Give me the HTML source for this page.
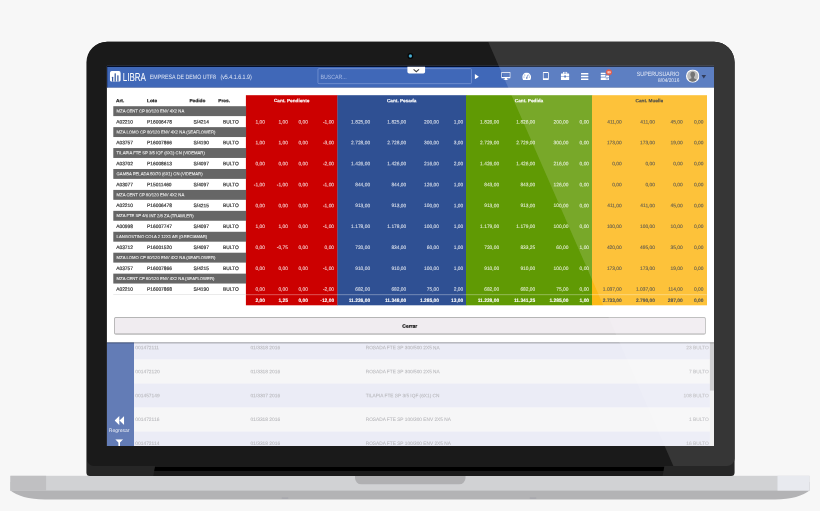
<!DOCTYPE html>
<html lang="es">
<head>
<meta charset="utf-8">
<title>LIBRA - Empresa de demo</title>
<style>
html,body{margin:0;padding:0}
body{width:820px;height:511px;overflow:hidden;background:#f7f7f7;position:relative;font-family:"Liberation Sans",Arial,sans-serif}
div,svg.l{position:absolute;box-sizing:border-box}
svg.l{left:0;top:0}
.screen{left:0;top:0;width:820px;height:511px;clip-path:inset(66.7px 106px 65px 106.95px)}
.t{left:0;top:0;transform-origin:0 0;white-space:nowrap;line-height:8px;height:8px;font-size:4.88px;color:#3a3a3a;-webkit-text-stroke:.2px;text-rendering:geometricPrecision}
.b{font-weight:bold;-webkit-text-stroke:.06px}
</style>
</head>
<body>

<svg class="l" width="820" height="511" viewBox="0 0 820 511">
<defs><clipPath id="scr"><rect x="106.95" y="65.7" width="607.05" height="380.3"/></clipPath><clipPath id="lidc"><path d="M106.9 41.8 H714.1 A20.5 20.5 0 0 1 734.6 62.3 V458.5 A7.5 7.5 0 0 1 727.1 466 H93.9 A7.5 7.5 0 0 1 86.4 458.5 V62.3 A20.5 20.5 0 0 1 106.9 41.8 Z"/></clipPath><clipPath id="av"><circle cx="67" cy="67" r="56"/></clipPath></defs>
<path d="M106.9 41.8 H714.1 A20.5 20.5 0 0 1 734.6 62.3 V472.4 A3.5 3.5 0 0 1 731.1 475.9 H89.9 A3.5 3.5 0 0 1 86.4 472.4 V62.3 A20.5 20.5 0 0 1 106.9 41.8 Z" fill="none" stroke="#fff" stroke-opacity=".55" stroke-width="1.6"/>
<path d="M10.4 482 H809.5 V490.6 C803.5 495.6 791 499.6 775 499.6 H45 C29 499.6 16.4 495.6 10.4 490.6 Z" fill="#b3b3b5"/>
<rect x="10.4" y="475.8" width="799.1" height="14.8" fill="#d1d2d4"/>
<rect x="10.4" y="475.8" width="35.7" height="14.8" fill="#c0c0c2"/>
<rect x="777.5" y="475.8" width="32" height="14.8" fill="#e8eaef"/>
<path d="M355 475.5 H465.5 V478 A6.3 6.3 0 0 1 459.2 484.3 H361.3 A6.3 6.3 0 0 1 355 478 Z" fill="#b0b0b2"/>
<rect x="281.5" y="497.4" width="7" height="1.4" rx="0.7" fill="#a5a5ac"/>
<rect x="529.5" y="497.4" width="7" height="1.4" rx="0.7" fill="#a5a5ac"/>
<path d="M106.9 41.8 H714.1 A20.5 20.5 0 0 1 734.6 62.3 V472.4 A3.5 3.5 0 0 1 731.1 475.9 H89.9 A3.5 3.5 0 0 1 86.4 472.4 V62.3 A20.5 20.5 0 0 1 106.9 41.8 Z" fill="#262626"/>
<path d="M107.5 41.8 H714.1 A20.5 20.5 0 0 1 734.6 62.3 V458.5 A7.5 7.5 0 0 1 727.1 466 H94 A7 7 0 0 1 87 459 V62.3 A20.5 20.5 0 0 1 107.5 41.8 Z" fill="#1a1a1a"/>
<path d="M155.2 465.5 H664.4 L662.6 475.9 H153.4 Z" fill="#1a1a1a"/>
<path d="M155 467 H664.2 L663.4 471.1 H154.2 Z" fill="#000"/>
<circle cx="410.4" cy="56" r="2.9" fill="#050505"/><circle cx="410.4" cy="56" r="1.7" fill="#3b9ec4"/><circle cx="410.4" cy="56" r=".8" fill="#62bbd9"/>
<g clip-path="url(#scr)">
<rect x="105.95" y="65.7" width="609.05" height="381.3" fill="#fff"/>
<rect x="105.95" y="341.3" width="28.15" height="105.7" fill="#637cb6"/>
<rect x="134.1" y="335.5" width="580.9" height="24.2" fill="#ebecf6"/>
<rect x="134.1" y="359.5" width="580.9" height="24.2" fill="#f6f6f7"/>
<rect x="134.1" y="383.5" width="580.9" height="24.2" fill="#ebecf6"/>
<rect x="134.1" y="407.5" width="580.9" height="24.2" fill="#f6f6f7"/>
<rect x="134.1" y="431.5" width="580.9" height="24.2" fill="#ebecf6"/>
<rect x="709.9" y="342" width="4.6" height="106" fill="#f1f1f1"/>
<rect x="709.9" y="342" width="4.6" height="48.6" fill="#c9c9cb"/>
<svg x="114.6" y="416.1" width="9.6" height="9" viewBox="0 0 98 84" preserveAspectRatio="none"><path d="M48 0 L48 84 L0 42 Z M98 0 L98 84 L50 42 Z" fill="#fff"/></svg>
<svg x="115.2" y="439.2" width="8" height="8" viewBox="0 0 80 80" preserveAspectRatio="none"><path d="M0 0 H80 L48 34 V80 H32 V34 Z" fill="#fff"/></svg>
<rect x="105.95" y="342.1" width="609.05" height="1.9" fill="rgba(0,0,0,.09)"/>
<rect x="105.95" y="342.1" width="609.05" height="1" fill="rgba(0,0,0,.30)"/>
<rect x="105.95" y="86.6" width="609.05" height="255.7" fill="#fff"/>
<rect x="105.95" y="65.7" width="609.05" height="21.9" fill="#4068b8"/>
<rect x="105.95" y="65.5" width="609.05" height="1.45" fill="#020b24"/>
<rect x="105.95" y="87" width="609.05" height="0.6" fill="rgba(40,40,60,.28)"/>
<rect x="106.85" y="66.1" width="0.45" height="21.5" fill="#0a1c4a"/>
<svg x="109.8" y="70.9" width="11" height="10.9" viewBox="0 0 106 108" preserveAspectRatio="none"><rect x="0" y="0" width="106" height="108" rx="26" fill="#fff"/><rect x="21" y="58" width="12" height="50" rx="5" fill="#34589f"/><rect x="46" y="24" width="12" height="84" rx="5" fill="#34589f"/><rect x="72" y="44" width="12" height="64" rx="5" fill="#34589f"/></svg>
<rect x="317.95" y="68.65" width="153.5" height="15" rx="1" fill="none" stroke="#8fa9e0" stroke-width=".55"/>
<path d="M407.4 66.7 H425.1 V71.8 A1.8 1.8 0 0 1 423.3 73.6 H409.2 A1.8 1.8 0 0 1 407.4 71.8 Z" fill="#fff"/>
<path d="M413.6 69.3 L416.3 71.7 L419 69.3" fill="none" stroke="#444" stroke-width="1.1"/>
<path d="M474.9 74.1 L478.9 76.7 L474.9 79.3 Z" fill="#fff"/>
<svg x="501.2" y="71.9" width="9.4" height="8.2" viewBox="0 0 94 82" preserveAspectRatio="none"><path d="M6 0 H88 a6 6 0 0 1 6 6 V58 a6 6 0 0 1 -6 6 H56 L60 76 H70 V82 H24 V76 H34 L38 64 H6 a6 6 0 0 1 -6 -6 V6 a6 6 0 0 1 6 -6 Z M8 8 V50 H86 V8 Z" fill="#fff" fill-rule="evenodd"/></svg>
<svg x="522.2" y="72.6" width="8.9" height="7.5" viewBox="0 0 89 75" preserveAspectRatio="none"><path d="M44.5 0 A44.5 44.5 0 0 1 89 44.5 C89 56 86 66 80 75 H9 C3 66 0 56 0 44.5 A44.5 44.5 0 0 1 44.5 0 Z" fill="#fff"/><path d="M42 52 L52 22 L56 24 L50 54 Z" fill="#4068b8"/><circle cx="46" cy="55" r="8" fill="#4068b8"/><circle cx="18" cy="44" r="5" fill="#4068b8"/><circle cx="26" cy="24" r="5" fill="#4068b8"/><circle cx="71" cy="44" r="5" fill="#4068b8"/><circle cx="66" cy="25" r="5" fill="#4068b8"/></svg>
<svg x="542.7" y="72.1" width="6.2" height="8" viewBox="0 0 62 80" preserveAspectRatio="none"><path d="M10 0 H52 a10 10 0 0 1 10 10 V70 a10 10 0 0 1 -10 10 H10 a10 10 0 0 1 -10 -10 V10 a10 10 0 0 1 10 -10 Z M9 10 V62 H53 V10 Z" fill="#fff" fill-rule="evenodd"/></svg>
<svg x="560.8" y="71.8" width="8.6" height="8.3" viewBox="0 0 86 83" preserveAspectRatio="none"><path d="M28 0 H58 a6 6 0 0 1 6 6 V18 H80 a6 6 0 0 1 6 6 V44 H52 V38 H34 V44 H0 V24 a6 6 0 0 1 6 -6 H22 V6 a6 6 0 0 1 6 -6 Z M30 8 V18 H56 V8 Z M0 50 H34 V58 H52 V50 H86 V77 a6 6 0 0 1 -6 6 H6 a6 6 0 0 1 -6 -6 Z" fill="#fff" fill-rule="evenodd"/></svg>
<svg x="581" y="73" width="7.6" height="7.1" viewBox="0 0 76 71" preserveAspectRatio="none"><rect x="0" y="0" width="76" height="16" rx="3" fill="#fff"/><rect x="0" y="27" width="76" height="16" rx="3" fill="#fff"/><rect x="0" y="55" width="76" height="16" rx="3" fill="#fff"/></svg>
<svg x="600.5" y="72.6" width="8.6" height="7.5" viewBox="0 0 86 75" preserveAspectRatio="none"><rect x="0" y="0" width="50" height="17" rx="3" fill="#fff"/><rect x="0" y="24" width="50" height="17" rx="3" fill="#fff"/><rect x="0" y="50" width="86" height="25" rx="4" fill="#fff"/><rect x="56" y="30" width="30" height="14" rx="3" fill="#fff"/><rect x="52" y="58" width="26" height="8" rx="3" fill="#4068b8"/></svg>
<circle cx="609" cy="72.2" r="3" fill="#e2432e"/>
<svg x="686" y="69.4" width="13.4" height="13.4" viewBox="0 0 134 134" preserveAspectRatio="none"><circle cx="67" cy="67" r="67" fill="#fff"/><circle cx="67" cy="67" r="56" fill="#b0b0b0"/><g clip-path="url(#av)" fill="#5c5c5c"><ellipse cx="67" cy="52" rx="23" ry="28"/><path d="M18 134 C18 100 40 93 54 88 V74 H80 V88 C94 93 116 100 116 134 Z"/></g></svg>
<path d="M701.5 74.9 H706.1 L703.8 78.5 Z" fill="#0d1a3e"/>
<rect x="245.9" y="95.2" width="91.8" height="210.1" fill="#cc0000"/>
<rect x="337.4" y="95.2" width="128.9" height="210.1" fill="#2f5093"/>
<rect x="466" y="95.2" width="126.3" height="210.1" fill="#609a04"/>
<rect x="592" y="95.2" width="115" height="210.1" fill="#fdb917"/>
<rect x="245.9" y="294.5" width="460.8" height="0.6" fill="rgba(255,255,255,.55)"/>
<rect x="113.3" y="294.3" width="132.6" height="0.6" fill="#ddd"/>
<rect x="113.3" y="106.2" width="132.8" height="9.9" fill="#666"/>
<rect x="113.3" y="127.13" width="132.8" height="9.9" fill="#666"/>
<rect x="113.3" y="148.06" width="132.8" height="9.9" fill="#666"/>
<rect x="113.3" y="168.99" width="132.8" height="9.9" fill="#666"/>
<rect x="113.3" y="189.92" width="132.8" height="9.9" fill="#666"/>
<rect x="113.3" y="210.85" width="132.8" height="9.9" fill="#666"/>
<rect x="113.3" y="231.78" width="132.8" height="9.9" fill="#666"/>
<rect x="113.3" y="252.71" width="132.8" height="9.9" fill="#666"/>
<rect x="113.3" y="273.64" width="132.8" height="9.9" fill="#666"/>
<rect x="114.3" y="317.6" width="591.3" height="17.1" rx="1.4" fill="rgba(0,0,0,.22)"/>
<rect x="114.3" y="317.3" width="591.3" height="16.9" rx="1.4" fill="#a6a6a6"/>
<rect x="114.9" y="317.9" width="590.1" height="15.7" rx="0.9" fill="#f0ecf0"/>
</g>
</svg>
<div class="screen">
<div class="t" style="-webkit-text-stroke:0.05px;color:#b6b6ba;transform:translate(135.3px,345.34px) rotate(.03deg)">001472111</div>
<div class="t" style="-webkit-text-stroke:0.05px;color:#b6b6ba;transform:translate(250.4px,345.34px) rotate(.03deg)">01/3318 2016</div>
<div class="t" style="-webkit-text-stroke:0.05px;color:#b6b6ba;transform:translate(365.7px,345.34px) rotate(.03deg) scaleX(.977)">ROSADA FTE SP 300/500 2X5 NA</div>
<div class="t" style="width:60px;text-align:right;-webkit-text-stroke:0.05px;color:#b6b6ba;transform:translate(648.8px,345.34px) rotate(.03deg)">23 BULTO</div>
<div class="t" style="-webkit-text-stroke:0.05px;color:#b6b6ba;transform:translate(135.3px,369.24px) rotate(.03deg)">001472120</div>
<div class="t" style="-webkit-text-stroke:0.05px;color:#b6b6ba;transform:translate(250.4px,369.24px) rotate(.03deg)">01/3318 2016</div>
<div class="t" style="-webkit-text-stroke:0.05px;color:#b6b6ba;transform:translate(365.7px,369.24px) rotate(.03deg) scaleX(.977)">ROSADA FTE SP 300/500 2X5 NA</div>
<div class="t" style="width:60px;text-align:right;-webkit-text-stroke:0.05px;color:#b6b6ba;transform:translate(648.8px,369.24px) rotate(.03deg)">7 BULTO</div>
<div class="t" style="-webkit-text-stroke:0.05px;color:#b6b6ba;transform:translate(135.3px,393.14px) rotate(.03deg)">001457149</div>
<div class="t" style="-webkit-text-stroke:0.05px;color:#b6b6ba;transform:translate(250.4px,393.14px) rotate(.03deg)">01/3307 2016</div>
<div class="t" style="-webkit-text-stroke:0.05px;color:#b6b6ba;transform:translate(365.7px,393.14px) rotate(.03deg) scaleX(.977)">TILAPIA FTE SP 3/5 IQF (6X1) CN</div>
<div class="t" style="width:60px;text-align:right;-webkit-text-stroke:0.05px;color:#b6b6ba;transform:translate(648.8px,393.14px) rotate(.03deg)">108 BULTO</div>
<div class="t" style="-webkit-text-stroke:0.05px;color:#b6b6ba;transform:translate(135.3px,417.04px) rotate(.03deg)">001472116</div>
<div class="t" style="-webkit-text-stroke:0.05px;color:#b6b6ba;transform:translate(250.4px,417.04px) rotate(.03deg)">01/3318 2016</div>
<div class="t" style="-webkit-text-stroke:0.05px;color:#b6b6ba;transform:translate(365.7px,417.04px) rotate(.03deg) scaleX(.977)">ROSADA FTE SP 100/300 ENV 2X5 NA</div>
<div class="t" style="width:60px;text-align:right;-webkit-text-stroke:0.05px;color:#b6b6ba;transform:translate(648.8px,417.04px) rotate(.03deg)">1 BULTO</div>
<div class="t" style="-webkit-text-stroke:0.05px;color:#b6b6ba;transform:translate(135.3px,440.94px) rotate(.03deg)">001472114</div>
<div class="t" style="-webkit-text-stroke:0.05px;color:#b6b6ba;transform:translate(250.4px,440.94px) rotate(.03deg)">01/3318 2016</div>
<div class="t" style="-webkit-text-stroke:0.05px;color:#b6b6ba;transform:translate(365.7px,440.94px) rotate(.03deg) scaleX(.977)">ROSADA FTE SP 100/300 ENV 2X5 NA</div>
<div class="t" style="width:60px;text-align:right;-webkit-text-stroke:0.05px;color:#b6b6ba;transform:translate(648.8px,440.94px) rotate(.03deg)">16 BULTO</div>
<div class="t" style="width:27.4px;text-align:center;font-size:5.03px;-webkit-text-stroke:0px;color:rgba(255,255,255,.88);transform:translate(105.4px,427.1px) rotate(.03deg)">Regresar</div>
<div class="t" style="font-size:11.6px;-webkit-text-stroke:0px;color:#fff;transform:translate(122.8px,73.88px) rotate(.03deg) scaleX(.69)">LIBRA</div>
<div class="t" style="font-size:6.3px;-webkit-text-stroke:0px;color:#e3e9f6;transform:translate(149.8px,74.21px) rotate(.03deg) scaleX(.837)">EMPRESA DE DEMO UTF8</div>
<div class="t" style="font-size:6.3px;-webkit-text-stroke:0px;color:#e3e9f6;transform:translate(220.4px,74.21px) rotate(.03deg) scaleX(.846)">(v5.4.1.6.1.9)</div>
<div class="t" style="font-size:6.2px;-webkit-text-stroke:0px;color:#a9bce6;transform:translate(320.4px,73.63px) rotate(.03deg) scaleX(.848)">BUSCAR...</div>
<div class="t b" style="width:8px;text-align:center;font-size:2.8px;color:#fff;transform:translate(605px,68.21px) rotate(.03deg)">90</div>
<div class="t" style="font-size:6.2px;-webkit-text-stroke:0px;color:#e3e9f6;transform:translate(636.8px,70.98px) rotate(.03deg) scaleX(.859)">SUPERUSUARIO</div>
<div class="t" style="font-size:5.4px;-webkit-text-stroke:0px;color:#e3e9f6;transform:translate(658px,77.01px) rotate(.03deg) scaleX(.891)">8/04/2016</div>
<div class="t b" style="font-size:4.8px;-webkit-text-stroke:0.15px;color:#111;transform:translate(116px,98.16px) rotate(.03deg)">Art.</div>
<div class="t b" style="font-size:4.8px;-webkit-text-stroke:0.15px;color:#111;transform:translate(147px,98.16px) rotate(.03deg)">Lote</div>
<div class="t b" style="font-size:4.8px;-webkit-text-stroke:0.15px;color:#111;transform:translate(189.4px,98.16px) rotate(.03deg)">Pedido</div>
<div class="t b" style="font-size:4.8px;-webkit-text-stroke:0.15px;color:#111;transform:translate(218.3px,98.16px) rotate(.03deg)">Pres.</div>
<div class="t b" style="width:91.5px;text-align:center;font-size:4.69px;-webkit-text-stroke:0.12px;color:#fff;transform:translate(245.9px,97.11px) rotate(.03deg)">Cant. Pendiente</div>
<div class="t b" style="width:128.6px;text-align:center;font-size:4.69px;-webkit-text-stroke:0.12px;color:#fff;transform:translate(337.4px,97.11px) rotate(.03deg)">Cant. Pesada</div>
<div class="t b" style="width:126px;text-align:center;font-size:4.69px;-webkit-text-stroke:0.12px;color:#fff;transform:translate(466px,97.11px) rotate(.03deg)">Cant. Pedida</div>
<div class="t b" style="width:114.7px;text-align:center;font-size:4.69px;-webkit-text-stroke:0.12px;color:#2a2a2a;transform:translate(592px,97.11px) rotate(.03deg)">Cant. Muelle</div>
<div class="t" style="font-size:4.21px;-webkit-text-stroke:0.08px;color:#f0f0f0;transform:translate(116.6px,107.46px) rotate(.03deg)">MZA CENT CP 80/120 ENV 4X2 NA</div>
<div class="t" style="transform:translate(116.2px,119.39px) rotate(.03deg)">A02210</div>
<div class="t" style="transform:translate(147px,119.39px) rotate(.03deg)">P16006478</div>
<div class="t" style="width:40px;text-align:right;transform:translate(169px,119.39px) rotate(.03deg)">S/4214</div>
<div class="t" style="transform:translate(222.9px,119.39px) rotate(.03deg)">BULTO</div>
<div class="t" style="width:40px;text-align:right;-webkit-text-stroke:0.06px;color:rgba(255,255,255,.82);transform:translate(225px,119.39px) rotate(.03deg)">1,00</div>
<div class="t" style="width:40px;text-align:right;-webkit-text-stroke:0.06px;color:rgba(255,255,255,.82);transform:translate(247.9px,119.39px) rotate(.03deg)">1,00</div>
<div class="t" style="width:40px;text-align:right;-webkit-text-stroke:0.06px;color:rgba(255,255,255,.82);transform:translate(267.9px,119.39px) rotate(.03deg)">0,00</div>
<div class="t" style="width:40px;text-align:right;-webkit-text-stroke:0.06px;color:rgba(255,255,255,.82);transform:translate(294.1px,119.39px) rotate(.03deg)">-1,00</div>
<div class="t" style="width:40px;text-align:right;-webkit-text-stroke:0.06px;color:rgba(255,255,255,.82);transform:translate(330.1px,119.39px) rotate(.03deg)">1.825,00</div>
<div class="t" style="width:40px;text-align:right;-webkit-text-stroke:0.06px;color:rgba(255,255,255,.82);transform:translate(366.3px,119.39px) rotate(.03deg)">1.825,00</div>
<div class="t" style="width:40px;text-align:right;-webkit-text-stroke:0.06px;color:rgba(255,255,255,.82);transform:translate(399px,119.39px) rotate(.03deg)">200,00</div>
<div class="t" style="width:40px;text-align:right;-webkit-text-stroke:0.06px;color:rgba(255,255,255,.82);transform:translate(423.3px,119.39px) rotate(.03deg)">1,00</div>
<div class="t" style="width:40px;text-align:right;-webkit-text-stroke:0.06px;color:rgba(255,255,255,.82);transform:translate(459.1px,119.39px) rotate(.03deg)">1.826,00</div>
<div class="t" style="width:40px;text-align:right;-webkit-text-stroke:0.06px;color:rgba(255,255,255,.82);transform:translate(495.3px,119.39px) rotate(.03deg)">1.826,00</div>
<div class="t" style="width:40px;text-align:right;-webkit-text-stroke:0.06px;color:rgba(255,255,255,.82);transform:translate(528.4px,119.39px) rotate(.03deg)">200,00</div>
<div class="t" style="width:40px;text-align:right;-webkit-text-stroke:0.06px;color:rgba(255,255,255,.82);transform:translate(549.1px,119.39px) rotate(.03deg)">0,00</div>
<div class="t" style="width:40px;text-align:right;-webkit-text-stroke:0.1px;color:#4a4030;transform:translate(581.8px,119.39px) rotate(.03deg)">411,00</div>
<div class="t" style="width:40px;text-align:right;-webkit-text-stroke:0.1px;color:#4a4030;transform:translate(614.9px,119.39px) rotate(.03deg)">411,00</div>
<div class="t" style="width:40px;text-align:right;-webkit-text-stroke:0.1px;color:#4a4030;transform:translate(642.7px,119.39px) rotate(.03deg)">45,00</div>
<div class="t" style="width:40px;text-align:right;-webkit-text-stroke:0.1px;color:#4a4030;transform:translate(663.4px,119.39px) rotate(.03deg)">0,00</div>
<div class="t" style="font-size:4.21px;-webkit-text-stroke:0.08px;color:#f0f0f0;transform:translate(116.6px,128.39px) rotate(.03deg)">MZA LOMO CP 80/120 ENV 4X2 NA (SEAFLOWER)</div>
<div class="t" style="transform:translate(116.2px,140.32px) rotate(.03deg)">A03757</div>
<div class="t" style="transform:translate(147px,140.32px) rotate(.03deg)">P16007866</div>
<div class="t" style="width:40px;text-align:right;transform:translate(169px,140.32px) rotate(.03deg)">S/4190</div>
<div class="t" style="transform:translate(222.9px,140.32px) rotate(.03deg)">BULTO</div>
<div class="t" style="width:40px;text-align:right;-webkit-text-stroke:0.06px;color:rgba(255,255,255,.82);transform:translate(225px,140.32px) rotate(.03deg)">1,00</div>
<div class="t" style="width:40px;text-align:right;-webkit-text-stroke:0.06px;color:rgba(255,255,255,.82);transform:translate(247.9px,140.32px) rotate(.03deg)">1,00</div>
<div class="t" style="width:40px;text-align:right;-webkit-text-stroke:0.06px;color:rgba(255,255,255,.82);transform:translate(267.9px,140.32px) rotate(.03deg)">0,00</div>
<div class="t" style="width:40px;text-align:right;-webkit-text-stroke:0.06px;color:rgba(255,255,255,.82);transform:translate(294.1px,140.32px) rotate(.03deg)">-3,00</div>
<div class="t" style="width:40px;text-align:right;-webkit-text-stroke:0.06px;color:rgba(255,255,255,.82);transform:translate(330.1px,140.32px) rotate(.03deg)">2.728,00</div>
<div class="t" style="width:40px;text-align:right;-webkit-text-stroke:0.06px;color:rgba(255,255,255,.82);transform:translate(366.3px,140.32px) rotate(.03deg)">2.728,00</div>
<div class="t" style="width:40px;text-align:right;-webkit-text-stroke:0.06px;color:rgba(255,255,255,.82);transform:translate(399px,140.32px) rotate(.03deg)">300,00</div>
<div class="t" style="width:40px;text-align:right;-webkit-text-stroke:0.06px;color:rgba(255,255,255,.82);transform:translate(423.3px,140.32px) rotate(.03deg)">3,00</div>
<div class="t" style="width:40px;text-align:right;-webkit-text-stroke:0.06px;color:rgba(255,255,255,.82);transform:translate(459.1px,140.32px) rotate(.03deg)">2.729,00</div>
<div class="t" style="width:40px;text-align:right;-webkit-text-stroke:0.06px;color:rgba(255,255,255,.82);transform:translate(495.3px,140.32px) rotate(.03deg)">2.729,00</div>
<div class="t" style="width:40px;text-align:right;-webkit-text-stroke:0.06px;color:rgba(255,255,255,.82);transform:translate(528.4px,140.32px) rotate(.03deg)">300,00</div>
<div class="t" style="width:40px;text-align:right;-webkit-text-stroke:0.06px;color:rgba(255,255,255,.82);transform:translate(549.1px,140.32px) rotate(.03deg)">0,00</div>
<div class="t" style="width:40px;text-align:right;-webkit-text-stroke:0.1px;color:#4a4030;transform:translate(581.8px,140.32px) rotate(.03deg)">173,00</div>
<div class="t" style="width:40px;text-align:right;-webkit-text-stroke:0.1px;color:#4a4030;transform:translate(614.9px,140.32px) rotate(.03deg)">173,00</div>
<div class="t" style="width:40px;text-align:right;-webkit-text-stroke:0.1px;color:#4a4030;transform:translate(642.7px,140.32px) rotate(.03deg)">19,00</div>
<div class="t" style="width:40px;text-align:right;-webkit-text-stroke:0.1px;color:#4a4030;transform:translate(663.4px,140.32px) rotate(.03deg)">0,00</div>
<div class="t" style="font-size:4.21px;-webkit-text-stroke:0.08px;color:#f0f0f0;transform:translate(116.6px,149.32px) rotate(.03deg)">TILAPIA FTE SP 3/5 IQF (6X1) CN (VIDEMAR)</div>
<div class="t" style="transform:translate(116.2px,161.25px) rotate(.03deg)">A03702</div>
<div class="t" style="transform:translate(147px,161.25px) rotate(.03deg)">P16008613</div>
<div class="t" style="width:40px;text-align:right;transform:translate(169px,161.25px) rotate(.03deg)">S/4097</div>
<div class="t" style="transform:translate(222.9px,161.25px) rotate(.03deg)">BULTO</div>
<div class="t" style="width:40px;text-align:right;-webkit-text-stroke:0.06px;color:rgba(255,255,255,.82);transform:translate(225px,161.25px) rotate(.03deg)">0,00</div>
<div class="t" style="width:40px;text-align:right;-webkit-text-stroke:0.06px;color:rgba(255,255,255,.82);transform:translate(247.9px,161.25px) rotate(.03deg)">0,00</div>
<div class="t" style="width:40px;text-align:right;-webkit-text-stroke:0.06px;color:rgba(255,255,255,.82);transform:translate(267.9px,161.25px) rotate(.03deg)">0,00</div>
<div class="t" style="width:40px;text-align:right;-webkit-text-stroke:0.06px;color:rgba(255,255,255,.82);transform:translate(294.1px,161.25px) rotate(.03deg)">-2,00</div>
<div class="t" style="width:40px;text-align:right;-webkit-text-stroke:0.06px;color:rgba(255,255,255,.82);transform:translate(330.1px,161.25px) rotate(.03deg)">1.426,00</div>
<div class="t" style="width:40px;text-align:right;-webkit-text-stroke:0.06px;color:rgba(255,255,255,.82);transform:translate(366.3px,161.25px) rotate(.03deg)">1.426,00</div>
<div class="t" style="width:40px;text-align:right;-webkit-text-stroke:0.06px;color:rgba(255,255,255,.82);transform:translate(399px,161.25px) rotate(.03deg)">216,00</div>
<div class="t" style="width:40px;text-align:right;-webkit-text-stroke:0.06px;color:rgba(255,255,255,.82);transform:translate(423.3px,161.25px) rotate(.03deg)">2,00</div>
<div class="t" style="width:40px;text-align:right;-webkit-text-stroke:0.06px;color:rgba(255,255,255,.82);transform:translate(459.1px,161.25px) rotate(.03deg)">1.426,00</div>
<div class="t" style="width:40px;text-align:right;-webkit-text-stroke:0.06px;color:rgba(255,255,255,.82);transform:translate(495.3px,161.25px) rotate(.03deg)">1.426,00</div>
<div class="t" style="width:40px;text-align:right;-webkit-text-stroke:0.06px;color:rgba(255,255,255,.82);transform:translate(528.4px,161.25px) rotate(.03deg)">216,00</div>
<div class="t" style="width:40px;text-align:right;-webkit-text-stroke:0.06px;color:rgba(255,255,255,.82);transform:translate(549.1px,161.25px) rotate(.03deg)">0,00</div>
<div class="t" style="width:40px;text-align:right;-webkit-text-stroke:0.1px;color:#4a4030;transform:translate(581.8px,161.25px) rotate(.03deg)">0,00</div>
<div class="t" style="width:40px;text-align:right;-webkit-text-stroke:0.1px;color:#4a4030;transform:translate(614.9px,161.25px) rotate(.03deg)">0,00</div>
<div class="t" style="width:40px;text-align:right;-webkit-text-stroke:0.1px;color:#4a4030;transform:translate(642.7px,161.25px) rotate(.03deg)">0,00</div>
<div class="t" style="width:40px;text-align:right;-webkit-text-stroke:0.1px;color:#4a4030;transform:translate(663.4px,161.25px) rotate(.03deg)">0,00</div>
<div class="t" style="font-size:4.21px;-webkit-text-stroke:0.08px;color:#f0f0f0;transform:translate(116.6px,170.25px) rotate(.03deg)">GAMBA PELADA 50/70 (6X1) CN (VIDEMAR)</div>
<div class="t" style="transform:translate(116.2px,182.18px) rotate(.03deg)">A03077</div>
<div class="t" style="transform:translate(147px,182.18px) rotate(.03deg)">P15011460</div>
<div class="t" style="width:40px;text-align:right;transform:translate(169px,182.18px) rotate(.03deg)">S/4097</div>
<div class="t" style="transform:translate(222.9px,182.18px) rotate(.03deg)">BULTO</div>
<div class="t" style="width:40px;text-align:right;-webkit-text-stroke:0.06px;color:rgba(255,255,255,.82);transform:translate(225px,182.18px) rotate(.03deg)">-1,00</div>
<div class="t" style="width:40px;text-align:right;-webkit-text-stroke:0.06px;color:rgba(255,255,255,.82);transform:translate(247.9px,182.18px) rotate(.03deg)">-1,00</div>
<div class="t" style="width:40px;text-align:right;-webkit-text-stroke:0.06px;color:rgba(255,255,255,.82);transform:translate(267.9px,182.18px) rotate(.03deg)">0,00</div>
<div class="t" style="width:40px;text-align:right;-webkit-text-stroke:0.06px;color:rgba(255,255,255,.82);transform:translate(294.1px,182.18px) rotate(.03deg)">-1,00</div>
<div class="t" style="width:40px;text-align:right;-webkit-text-stroke:0.06px;color:rgba(255,255,255,.82);transform:translate(330.1px,182.18px) rotate(.03deg)">844,00</div>
<div class="t" style="width:40px;text-align:right;-webkit-text-stroke:0.06px;color:rgba(255,255,255,.82);transform:translate(366.3px,182.18px) rotate(.03deg)">844,00</div>
<div class="t" style="width:40px;text-align:right;-webkit-text-stroke:0.06px;color:rgba(255,255,255,.82);transform:translate(399px,182.18px) rotate(.03deg)">126,00</div>
<div class="t" style="width:40px;text-align:right;-webkit-text-stroke:0.06px;color:rgba(255,255,255,.82);transform:translate(423.3px,182.18px) rotate(.03deg)">1,00</div>
<div class="t" style="width:40px;text-align:right;-webkit-text-stroke:0.06px;color:rgba(255,255,255,.82);transform:translate(459.1px,182.18px) rotate(.03deg)">843,00</div>
<div class="t" style="width:40px;text-align:right;-webkit-text-stroke:0.06px;color:rgba(255,255,255,.82);transform:translate(495.3px,182.18px) rotate(.03deg)">843,00</div>
<div class="t" style="width:40px;text-align:right;-webkit-text-stroke:0.06px;color:rgba(255,255,255,.82);transform:translate(528.4px,182.18px) rotate(.03deg)">126,00</div>
<div class="t" style="width:40px;text-align:right;-webkit-text-stroke:0.06px;color:rgba(255,255,255,.82);transform:translate(549.1px,182.18px) rotate(.03deg)">0,00</div>
<div class="t" style="width:40px;text-align:right;-webkit-text-stroke:0.1px;color:#4a4030;transform:translate(581.8px,182.18px) rotate(.03deg)">0,00</div>
<div class="t" style="width:40px;text-align:right;-webkit-text-stroke:0.1px;color:#4a4030;transform:translate(614.9px,182.18px) rotate(.03deg)">0,00</div>
<div class="t" style="width:40px;text-align:right;-webkit-text-stroke:0.1px;color:#4a4030;transform:translate(642.7px,182.18px) rotate(.03deg)">0,00</div>
<div class="t" style="width:40px;text-align:right;-webkit-text-stroke:0.1px;color:#4a4030;transform:translate(663.4px,182.18px) rotate(.03deg)">0,00</div>
<div class="t" style="font-size:4.21px;-webkit-text-stroke:0.08px;color:#f0f0f0;transform:translate(116.6px,191.18px) rotate(.03deg)">MZA CENT CP 80/120 ENV 4X2 NA</div>
<div class="t" style="transform:translate(116.2px,203.11px) rotate(.03deg)">A02210</div>
<div class="t" style="transform:translate(147px,203.11px) rotate(.03deg)">P16006478</div>
<div class="t" style="width:40px;text-align:right;transform:translate(169px,203.11px) rotate(.03deg)">S/4215</div>
<div class="t" style="transform:translate(222.9px,203.11px) rotate(.03deg)">BULTO</div>
<div class="t" style="width:40px;text-align:right;-webkit-text-stroke:0.06px;color:rgba(255,255,255,.82);transform:translate(225px,203.11px) rotate(.03deg)">0,00</div>
<div class="t" style="width:40px;text-align:right;-webkit-text-stroke:0.06px;color:rgba(255,255,255,.82);transform:translate(247.9px,203.11px) rotate(.03deg)">0,00</div>
<div class="t" style="width:40px;text-align:right;-webkit-text-stroke:0.06px;color:rgba(255,255,255,.82);transform:translate(267.9px,203.11px) rotate(.03deg)">0,00</div>
<div class="t" style="width:40px;text-align:right;-webkit-text-stroke:0.06px;color:rgba(255,255,255,.82);transform:translate(294.1px,203.11px) rotate(.03deg)">-1,00</div>
<div class="t" style="width:40px;text-align:right;-webkit-text-stroke:0.06px;color:rgba(255,255,255,.82);transform:translate(330.1px,203.11px) rotate(.03deg)">913,00</div>
<div class="t" style="width:40px;text-align:right;-webkit-text-stroke:0.06px;color:rgba(255,255,255,.82);transform:translate(366.3px,203.11px) rotate(.03deg)">913,00</div>
<div class="t" style="width:40px;text-align:right;-webkit-text-stroke:0.06px;color:rgba(255,255,255,.82);transform:translate(399px,203.11px) rotate(.03deg)">100,00</div>
<div class="t" style="width:40px;text-align:right;-webkit-text-stroke:0.06px;color:rgba(255,255,255,.82);transform:translate(423.3px,203.11px) rotate(.03deg)">1,00</div>
<div class="t" style="width:40px;text-align:right;-webkit-text-stroke:0.06px;color:rgba(255,255,255,.82);transform:translate(459.1px,203.11px) rotate(.03deg)">913,00</div>
<div class="t" style="width:40px;text-align:right;-webkit-text-stroke:0.06px;color:rgba(255,255,255,.82);transform:translate(495.3px,203.11px) rotate(.03deg)">913,00</div>
<div class="t" style="width:40px;text-align:right;-webkit-text-stroke:0.06px;color:rgba(255,255,255,.82);transform:translate(528.4px,203.11px) rotate(.03deg)">100,00</div>
<div class="t" style="width:40px;text-align:right;-webkit-text-stroke:0.06px;color:rgba(255,255,255,.82);transform:translate(549.1px,203.11px) rotate(.03deg)">0,00</div>
<div class="t" style="width:40px;text-align:right;-webkit-text-stroke:0.1px;color:#4a4030;transform:translate(581.8px,203.11px) rotate(.03deg)">411,00</div>
<div class="t" style="width:40px;text-align:right;-webkit-text-stroke:0.1px;color:#4a4030;transform:translate(614.9px,203.11px) rotate(.03deg)">411,00</div>
<div class="t" style="width:40px;text-align:right;-webkit-text-stroke:0.1px;color:#4a4030;transform:translate(642.7px,203.11px) rotate(.03deg)">45,00</div>
<div class="t" style="width:40px;text-align:right;-webkit-text-stroke:0.1px;color:#4a4030;transform:translate(663.4px,203.11px) rotate(.03deg)">0,00</div>
<div class="t" style="font-size:4.21px;-webkit-text-stroke:0.08px;color:#f0f0f0;transform:translate(116.6px,212.11px) rotate(.03deg)">MZA FTE SP 4/6 INT 2/8 ZA (TRAWLER)</div>
<div class="t" style="transform:translate(116.2px,224.04px) rotate(.03deg)">A00998</div>
<div class="t" style="transform:translate(147px,224.04px) rotate(.03deg)">P16007747</div>
<div class="t" style="width:40px;text-align:right;transform:translate(169px,224.04px) rotate(.03deg)">S/4097</div>
<div class="t" style="transform:translate(222.9px,224.04px) rotate(.03deg)">BULTO</div>
<div class="t" style="width:40px;text-align:right;-webkit-text-stroke:0.06px;color:rgba(255,255,255,.82);transform:translate(225px,224.04px) rotate(.03deg)">1,00</div>
<div class="t" style="width:40px;text-align:right;-webkit-text-stroke:0.06px;color:rgba(255,255,255,.82);transform:translate(247.9px,224.04px) rotate(.03deg)">1,00</div>
<div class="t" style="width:40px;text-align:right;-webkit-text-stroke:0.06px;color:rgba(255,255,255,.82);transform:translate(267.9px,224.04px) rotate(.03deg)">0,00</div>
<div class="t" style="width:40px;text-align:right;-webkit-text-stroke:0.06px;color:rgba(255,255,255,.82);transform:translate(294.1px,224.04px) rotate(.03deg)">-1,00</div>
<div class="t" style="width:40px;text-align:right;-webkit-text-stroke:0.06px;color:rgba(255,255,255,.82);transform:translate(330.1px,224.04px) rotate(.03deg)">1.178,00</div>
<div class="t" style="width:40px;text-align:right;-webkit-text-stroke:0.06px;color:rgba(255,255,255,.82);transform:translate(366.3px,224.04px) rotate(.03deg)">1.178,00</div>
<div class="t" style="width:40px;text-align:right;-webkit-text-stroke:0.06px;color:rgba(255,255,255,.82);transform:translate(399px,224.04px) rotate(.03deg)">100,00</div>
<div class="t" style="width:40px;text-align:right;-webkit-text-stroke:0.06px;color:rgba(255,255,255,.82);transform:translate(423.3px,224.04px) rotate(.03deg)">1,00</div>
<div class="t" style="width:40px;text-align:right;-webkit-text-stroke:0.06px;color:rgba(255,255,255,.82);transform:translate(459.1px,224.04px) rotate(.03deg)">1.179,00</div>
<div class="t" style="width:40px;text-align:right;-webkit-text-stroke:0.06px;color:rgba(255,255,255,.82);transform:translate(495.3px,224.04px) rotate(.03deg)">1.179,00</div>
<div class="t" style="width:40px;text-align:right;-webkit-text-stroke:0.06px;color:rgba(255,255,255,.82);transform:translate(528.4px,224.04px) rotate(.03deg)">100,00</div>
<div class="t" style="width:40px;text-align:right;-webkit-text-stroke:0.06px;color:rgba(255,255,255,.82);transform:translate(549.1px,224.04px) rotate(.03deg)">0,00</div>
<div class="t" style="width:40px;text-align:right;-webkit-text-stroke:0.1px;color:#4a4030;transform:translate(581.8px,224.04px) rotate(.03deg)">100,00</div>
<div class="t" style="width:40px;text-align:right;-webkit-text-stroke:0.1px;color:#4a4030;transform:translate(614.9px,224.04px) rotate(.03deg)">100,00</div>
<div class="t" style="width:40px;text-align:right;-webkit-text-stroke:0.1px;color:#4a4030;transform:translate(642.7px,224.04px) rotate(.03deg)">10,00</div>
<div class="t" style="width:40px;text-align:right;-webkit-text-stroke:0.1px;color:#4a4030;transform:translate(663.4px,224.04px) rotate(.03deg)">0,00</div>
<div class="t" style="font-size:4.21px;-webkit-text-stroke:0.08px;color:#f0f0f0;transform:translate(116.6px,233.04px) rotate(.03deg)">LANGOSTINO COLA 2 12X1 AR (GRECIAMAR)</div>
<div class="t" style="transform:translate(116.2px,244.97px) rotate(.03deg)">A03712</div>
<div class="t" style="transform:translate(147px,244.97px) rotate(.03deg)">P16001520</div>
<div class="t" style="width:40px;text-align:right;transform:translate(169px,244.97px) rotate(.03deg)">S/4097</div>
<div class="t" style="transform:translate(222.9px,244.97px) rotate(.03deg)">BULTO</div>
<div class="t" style="width:40px;text-align:right;-webkit-text-stroke:0.06px;color:rgba(255,255,255,.82);transform:translate(225px,244.97px) rotate(.03deg)">0,00</div>
<div class="t" style="width:40px;text-align:right;-webkit-text-stroke:0.06px;color:rgba(255,255,255,.82);transform:translate(247.9px,244.97px) rotate(.03deg)">-0,75</div>
<div class="t" style="width:40px;text-align:right;-webkit-text-stroke:0.06px;color:rgba(255,255,255,.82);transform:translate(267.9px,244.97px) rotate(.03deg)">0,00</div>
<div class="t" style="width:40px;text-align:right;-webkit-text-stroke:0.06px;color:rgba(255,255,255,.82);transform:translate(294.1px,244.97px) rotate(.03deg)">0,00</div>
<div class="t" style="width:40px;text-align:right;-webkit-text-stroke:0.06px;color:rgba(255,255,255,.82);transform:translate(330.1px,244.97px) rotate(.03deg)">720,00</div>
<div class="t" style="width:40px;text-align:right;-webkit-text-stroke:0.06px;color:rgba(255,255,255,.82);transform:translate(366.3px,244.97px) rotate(.03deg)">834,00</div>
<div class="t" style="width:40px;text-align:right;-webkit-text-stroke:0.06px;color:rgba(255,255,255,.82);transform:translate(399px,244.97px) rotate(.03deg)">60,00</div>
<div class="t" style="width:40px;text-align:right;-webkit-text-stroke:0.06px;color:rgba(255,255,255,.82);transform:translate(423.3px,244.97px) rotate(.03deg)">1,00</div>
<div class="t" style="width:40px;text-align:right;-webkit-text-stroke:0.06px;color:rgba(255,255,255,.82);transform:translate(459.1px,244.97px) rotate(.03deg)">720,00</div>
<div class="t" style="width:40px;text-align:right;-webkit-text-stroke:0.06px;color:rgba(255,255,255,.82);transform:translate(495.3px,244.97px) rotate(.03deg)">833,25</div>
<div class="t" style="width:40px;text-align:right;-webkit-text-stroke:0.06px;color:rgba(255,255,255,.82);transform:translate(528.4px,244.97px) rotate(.03deg)">60,00</div>
<div class="t" style="width:40px;text-align:right;-webkit-text-stroke:0.06px;color:rgba(255,255,255,.82);transform:translate(549.1px,244.97px) rotate(.03deg)">1,00</div>
<div class="t" style="width:40px;text-align:right;-webkit-text-stroke:0.1px;color:#4a4030;transform:translate(581.8px,244.97px) rotate(.03deg)">420,00</div>
<div class="t" style="width:40px;text-align:right;-webkit-text-stroke:0.1px;color:#4a4030;transform:translate(614.9px,244.97px) rotate(.03deg)">495,00</div>
<div class="t" style="width:40px;text-align:right;-webkit-text-stroke:0.1px;color:#4a4030;transform:translate(642.7px,244.97px) rotate(.03deg)">35,00</div>
<div class="t" style="width:40px;text-align:right;-webkit-text-stroke:0.1px;color:#4a4030;transform:translate(663.4px,244.97px) rotate(.03deg)">0,00</div>
<div class="t" style="font-size:4.21px;-webkit-text-stroke:0.08px;color:#f0f0f0;transform:translate(116.6px,253.97px) rotate(.03deg)">MZA LOMO CP 80/120 ENV 4X2 NA (SEAFLOWER)</div>
<div class="t" style="transform:translate(116.2px,265.89px) rotate(.03deg)">A03757</div>
<div class="t" style="transform:translate(147px,265.89px) rotate(.03deg)">P16007866</div>
<div class="t" style="width:40px;text-align:right;transform:translate(169px,265.89px) rotate(.03deg)">S/4215</div>
<div class="t" style="transform:translate(222.9px,265.89px) rotate(.03deg)">BULTO</div>
<div class="t" style="width:40px;text-align:right;-webkit-text-stroke:0.06px;color:rgba(255,255,255,.82);transform:translate(225px,265.89px) rotate(.03deg)">0,00</div>
<div class="t" style="width:40px;text-align:right;-webkit-text-stroke:0.06px;color:rgba(255,255,255,.82);transform:translate(247.9px,265.89px) rotate(.03deg)">0,00</div>
<div class="t" style="width:40px;text-align:right;-webkit-text-stroke:0.06px;color:rgba(255,255,255,.82);transform:translate(267.9px,265.89px) rotate(.03deg)">0,00</div>
<div class="t" style="width:40px;text-align:right;-webkit-text-stroke:0.06px;color:rgba(255,255,255,.82);transform:translate(294.1px,265.89px) rotate(.03deg)">-1,00</div>
<div class="t" style="width:40px;text-align:right;-webkit-text-stroke:0.06px;color:rgba(255,255,255,.82);transform:translate(330.1px,265.89px) rotate(.03deg)">910,00</div>
<div class="t" style="width:40px;text-align:right;-webkit-text-stroke:0.06px;color:rgba(255,255,255,.82);transform:translate(366.3px,265.89px) rotate(.03deg)">910,00</div>
<div class="t" style="width:40px;text-align:right;-webkit-text-stroke:0.06px;color:rgba(255,255,255,.82);transform:translate(399px,265.89px) rotate(.03deg)">100,00</div>
<div class="t" style="width:40px;text-align:right;-webkit-text-stroke:0.06px;color:rgba(255,255,255,.82);transform:translate(423.3px,265.89px) rotate(.03deg)">1,00</div>
<div class="t" style="width:40px;text-align:right;-webkit-text-stroke:0.06px;color:rgba(255,255,255,.82);transform:translate(459.1px,265.89px) rotate(.03deg)">910,00</div>
<div class="t" style="width:40px;text-align:right;-webkit-text-stroke:0.06px;color:rgba(255,255,255,.82);transform:translate(495.3px,265.89px) rotate(.03deg)">910,00</div>
<div class="t" style="width:40px;text-align:right;-webkit-text-stroke:0.06px;color:rgba(255,255,255,.82);transform:translate(528.4px,265.89px) rotate(.03deg)">100,00</div>
<div class="t" style="width:40px;text-align:right;-webkit-text-stroke:0.06px;color:rgba(255,255,255,.82);transform:translate(549.1px,265.89px) rotate(.03deg)">0,00</div>
<div class="t" style="width:40px;text-align:right;-webkit-text-stroke:0.1px;color:#4a4030;transform:translate(581.8px,265.89px) rotate(.03deg)">173,00</div>
<div class="t" style="width:40px;text-align:right;-webkit-text-stroke:0.1px;color:#4a4030;transform:translate(614.9px,265.89px) rotate(.03deg)">173,00</div>
<div class="t" style="width:40px;text-align:right;-webkit-text-stroke:0.1px;color:#4a4030;transform:translate(642.7px,265.89px) rotate(.03deg)">19,00</div>
<div class="t" style="width:40px;text-align:right;-webkit-text-stroke:0.1px;color:#4a4030;transform:translate(663.4px,265.89px) rotate(.03deg)">0,00</div>
<div class="t" style="font-size:4.21px;-webkit-text-stroke:0.08px;color:#f0f0f0;transform:translate(116.6px,274.9px) rotate(.03deg)">MZA CENT CP 80/120 ENV 4X2 NA (SEAFLOWER)</div>
<div class="t" style="transform:translate(116.2px,286.83px) rotate(.03deg)">A02210</div>
<div class="t" style="transform:translate(147px,286.83px) rotate(.03deg)">P16007868</div>
<div class="t" style="width:40px;text-align:right;transform:translate(169px,286.83px) rotate(.03deg)">S/4190</div>
<div class="t" style="transform:translate(222.9px,286.83px) rotate(.03deg)">BULTO</div>
<div class="t" style="width:40px;text-align:right;-webkit-text-stroke:0.06px;color:rgba(255,255,255,.82);transform:translate(225px,286.83px) rotate(.03deg)">0,00</div>
<div class="t" style="width:40px;text-align:right;-webkit-text-stroke:0.06px;color:rgba(255,255,255,.82);transform:translate(247.9px,286.83px) rotate(.03deg)">0,00</div>
<div class="t" style="width:40px;text-align:right;-webkit-text-stroke:0.06px;color:rgba(255,255,255,.82);transform:translate(267.9px,286.83px) rotate(.03deg)">0,00</div>
<div class="t" style="width:40px;text-align:right;-webkit-text-stroke:0.06px;color:rgba(255,255,255,.82);transform:translate(294.1px,286.83px) rotate(.03deg)">-2,00</div>
<div class="t" style="width:40px;text-align:right;-webkit-text-stroke:0.06px;color:rgba(255,255,255,.82);transform:translate(330.1px,286.83px) rotate(.03deg)">682,00</div>
<div class="t" style="width:40px;text-align:right;-webkit-text-stroke:0.06px;color:rgba(255,255,255,.82);transform:translate(366.3px,286.83px) rotate(.03deg)">682,00</div>
<div class="t" style="width:40px;text-align:right;-webkit-text-stroke:0.06px;color:rgba(255,255,255,.82);transform:translate(399px,286.83px) rotate(.03deg)">75,00</div>
<div class="t" style="width:40px;text-align:right;-webkit-text-stroke:0.06px;color:rgba(255,255,255,.82);transform:translate(423.3px,286.83px) rotate(.03deg)">2,00</div>
<div class="t" style="width:40px;text-align:right;-webkit-text-stroke:0.06px;color:rgba(255,255,255,.82);transform:translate(459.1px,286.83px) rotate(.03deg)">682,00</div>
<div class="t" style="width:40px;text-align:right;-webkit-text-stroke:0.06px;color:rgba(255,255,255,.82);transform:translate(495.3px,286.83px) rotate(.03deg)">682,00</div>
<div class="t" style="width:40px;text-align:right;-webkit-text-stroke:0.06px;color:rgba(255,255,255,.82);transform:translate(528.4px,286.83px) rotate(.03deg)">75,00</div>
<div class="t" style="width:40px;text-align:right;-webkit-text-stroke:0.06px;color:rgba(255,255,255,.82);transform:translate(549.1px,286.83px) rotate(.03deg)">0,00</div>
<div class="t" style="width:40px;text-align:right;-webkit-text-stroke:0.1px;color:#4a4030;transform:translate(581.8px,286.83px) rotate(.03deg)">1.037,00</div>
<div class="t" style="width:40px;text-align:right;-webkit-text-stroke:0.1px;color:#4a4030;transform:translate(614.9px,286.83px) rotate(.03deg)">1.037,00</div>
<div class="t" style="width:40px;text-align:right;-webkit-text-stroke:0.1px;color:#4a4030;transform:translate(642.7px,286.83px) rotate(.03deg)">114,00</div>
<div class="t" style="width:40px;text-align:right;-webkit-text-stroke:0.1px;color:#4a4030;transform:translate(663.4px,286.83px) rotate(.03deg)">0,00</div>
<div class="t b" style="width:40px;text-align:right;color:#fff;transform:translate(225px,297.96px) rotate(.03deg)">2,00</div>
<div class="t b" style="width:40px;text-align:right;color:#fff;transform:translate(247.9px,297.96px) rotate(.03deg)">1,25</div>
<div class="t b" style="width:40px;text-align:right;color:#fff;transform:translate(267.9px,297.96px) rotate(.03deg)">0,00</div>
<div class="t b" style="width:40px;text-align:right;color:#fff;transform:translate(294.1px,297.96px) rotate(.03deg)">-12,00</div>
<div class="t b" style="width:40px;text-align:right;color:#fff;transform:translate(330.1px,297.96px) rotate(.03deg)">11.226,00</div>
<div class="t b" style="width:40px;text-align:right;color:#fff;transform:translate(366.3px,297.96px) rotate(.03deg)">11.348,00</div>
<div class="t b" style="width:40px;text-align:right;color:#fff;transform:translate(399px,297.96px) rotate(.03deg)">1.285,00</div>
<div class="t b" style="width:40px;text-align:right;color:#fff;transform:translate(423.3px,297.96px) rotate(.03deg)">13,00</div>
<div class="t b" style="width:40px;text-align:right;color:#fff;transform:translate(459.1px,297.96px) rotate(.03deg)">11.228,00</div>
<div class="t b" style="width:40px;text-align:right;color:#fff;transform:translate(495.3px,297.96px) rotate(.03deg)">11.341,25</div>
<div class="t b" style="width:40px;text-align:right;color:#fff;transform:translate(528.4px,297.96px) rotate(.03deg)">1.285,00</div>
<div class="t b" style="width:40px;text-align:right;color:#fff;transform:translate(549.1px,297.96px) rotate(.03deg)">1,00</div>
<div class="t b" style="width:40px;text-align:right;color:#333;transform:translate(581.8px,297.96px) rotate(.03deg)">2.733,00</div>
<div class="t b" style="width:40px;text-align:right;color:#333;transform:translate(614.9px,297.96px) rotate(.03deg)">2.790,00</div>
<div class="t b" style="width:40px;text-align:right;color:#333;transform:translate(642.7px,297.96px) rotate(.03deg)">287,00</div>
<div class="t b" style="width:40px;text-align:right;color:#333;transform:translate(663.4px,297.96px) rotate(.03deg)">0,00</div>
<div class="t b" style="width:60px;text-align:center;font-size:4.96px;-webkit-text-stroke:0.2px;color:#111;transform:translate(379.8px,323.85px) rotate(.03deg)">Cerrar</div>
</div>
<svg class="l" width="820" height="511" viewBox="0 0 820 511"><path d="M488.2 41.8 H735.6 V467.0 H673.8 Z" fill="#fff" fill-opacity=".125" clip-path="url(#lidc)"/><path d="M488.2 41.8 H735.6 V467.0 H673.8 Z" fill="#fff" fill-opacity=".03" clip-path="url(#scr)"/></svg>
</body></html>
